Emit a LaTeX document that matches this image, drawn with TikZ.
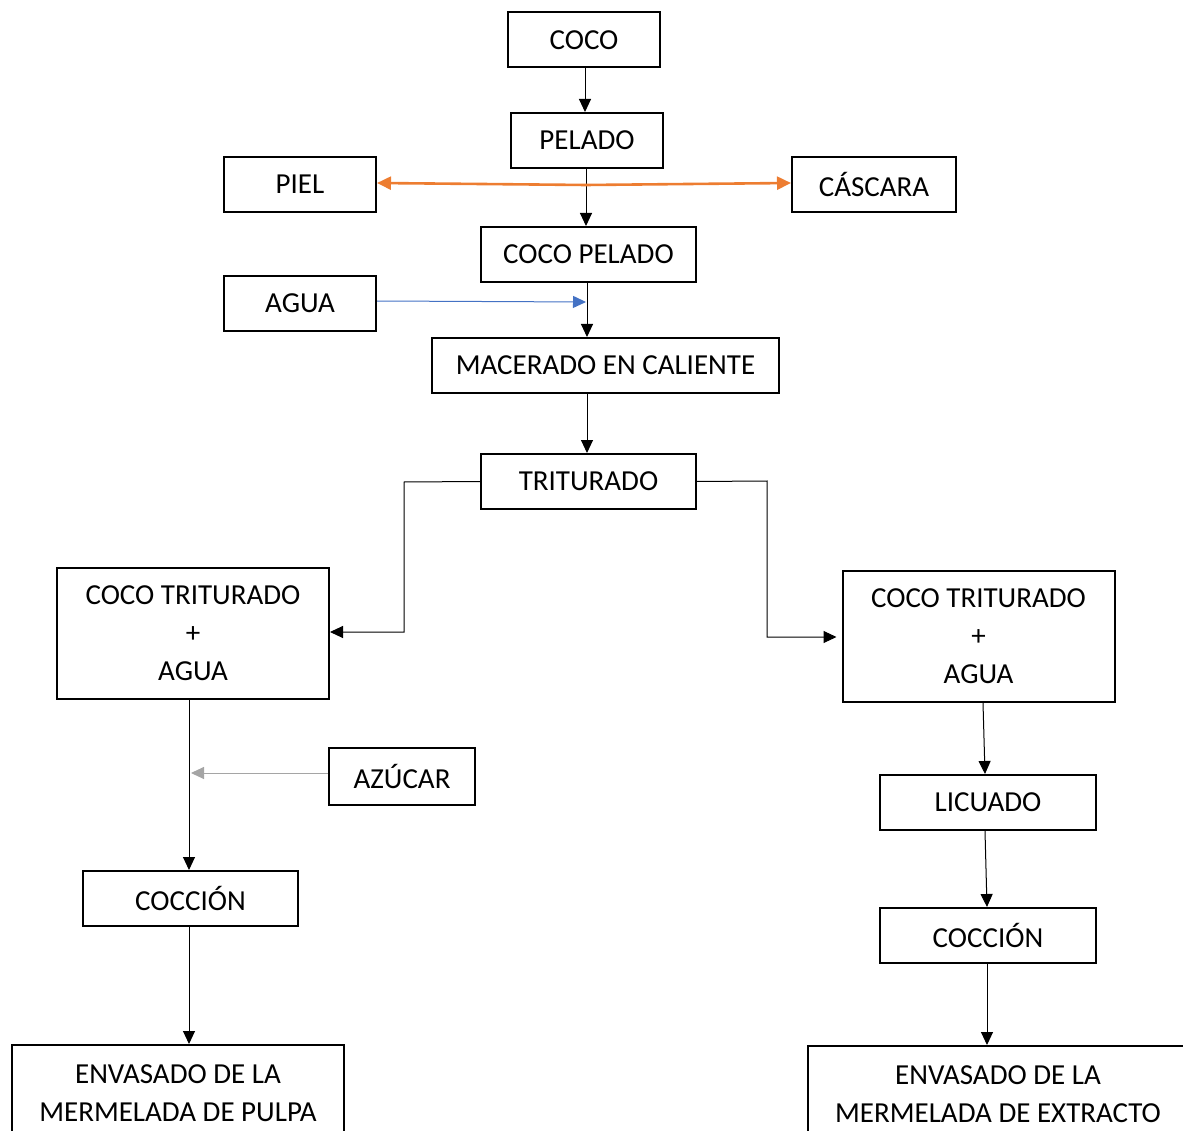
\documentclass[tikz,border=0pt]{standalone}
\usepackage{fontspec}
\setmainfont{Carlito}
\usetikzlibrary{arrows.meta}
\definecolor{ink}{HTML}{000000}
\definecolor{accentorange}{HTML}{ED7D31}
\definecolor{accentblue}{HTML}{4472C4}
\definecolor{accentgray}{HTML}{A5A5A5}
\tikzset{
  stepbox/.style={draw=ink,line width=2pt,align=center,inner sep=0pt,
                  minimum height=55pt,font=\fontsize{29}{38}\selectfont},
  blackarr/.style={-{Triangle[length=13pt,width=12pt]},line width=1pt,
                   draw=ink},
  orangearr/.style={-{Triangle[length=14pt,width=13pt]},line width=2.6pt,
                    draw=accentorange},
  bluearr/.style={-{Triangle[length=13pt,width=12pt]},line width=1pt,
                  draw=accentblue},
  grayarr/.style={-{Triangle[length=13pt,width=12pt]},line width=1pt,
                  draw=accentgray}
}
\begin{document}
\begin{tikzpicture}[x=1pt,y=-1pt]
    \path[use as bounding box] (0,0) rectangle (1183,1131);
    \clip (0,0) rectangle (1183,1131);
    \node[stepbox,minimum width=152pt] (coco) at (584,40) {COCO};
    \node[stepbox,minimum width=152pt] (pelado) at (587,140.5) {PELADO};
    \node[stepbox,minimum width=152pt] (piel) at (300,184.5) {PIEL};
    \node[stepbox,minimum width=164pt] (cascara) at (874,184.5) {CÁSCARA};
    \node[stepbox,minimum width=215pt] (cocopel) at (588.5,254.5)
      {COCO PELADO};
    \node[stepbox,minimum width=152pt] (agua) at (300,303.5) {AGUA};
    \node[stepbox,minimum width=347pt] (macer) at (605.5,365.5)
      {MACERADO EN CALIENTE};
    \node[stepbox,minimum width=215pt] (trit) at (588.5,481.5) {TRITURADO};
    \node[stepbox,minimum width=272pt,minimum height=131pt] (mezizq)
      at (193,633.5) {COCO TRITURADO\\+\\AGUA};
    \node[stepbox,minimum width=272pt,minimum height=131pt] (mezder)
      at (978.5,636.5) {COCO TRITURADO\\+\\AGUA};
    \node[stepbox,minimum width=146pt,minimum height=57pt] (azucar)
      at (402,776.5) {AZÚCAR};
    \node[stepbox,minimum width=216pt] (licuado) at (988,802.5) {LICUADO};
    \node[stepbox,minimum width=215pt] (coccizq) at (190.5,898.5)
      {COCCIÓN};
    \node[stepbox,minimum width=216pt] (coccder) at (988,935.5) {COCCIÓN};
    \node[stepbox,minimum width=332pt,inner ysep=20pt,anchor=north] (envizq)
      at (178,1044) {ENVASADO DE LA\\MERMELADA DE PULPA};
    \node[stepbox,minimum width=380pt,inner ysep=20pt,anchor=north] (envder)
      at (998,1045) {ENVASADO DE LA\\MERMELADA DE EXTRACTO};

    \coordinate (sep) at (586,185);
    \coordinate (entagua) at (586,302);
    \coordinate (entazucar) at (189,773);

    \draw[blackarr] (coco.south -| 585,0) -- (pelado.north -| 585,0);
    \draw[blackarr] (pelado.south -| 586,0) -- (cocopel.north -| 586,0);
    \draw[orangearr] (sep) -- (piel.east |- 0,183);
    \draw[orangearr] (sep) -- (cascara.west |- 0,183);
    \draw[blackarr] (cocopel.south -| 587,0) -- (macer.north -| 587,0);
    \draw[bluearr] (agua.east |- 0,301) -- (entagua);
    \draw[blackarr] (macer.south -| 587,0) -- (trit.north -| 587,0);
    \draw[blackarr] (trit.west) -- (404,482) |- (mezizq.east |- 0,632);
    \draw[blackarr] (trit.east) -- (767,481) |- ([xshift=-5pt]mezder.west |- 0,637);
    \draw[blackarr] (mezizq.south -| 189,0) -- (coccizq.north -| 189,0);
    \draw[grayarr] (azucar.west |- 0,773) -- ([xshift=2pt]entazucar);
    \draw[blackarr] (coccizq.south -| 189,0) -- (envizq.north -| 189,0);
    \draw[blackarr] (mezder.south -| 983,0) -- (licuado.north -| 985,0);
    \draw[blackarr] (licuado.south -| 985,0) -- (coccder.north -| 987,0);
    \draw[blackarr] (coccder.south -| 987,0) -- (envder.north -| 987,0);
  \end{tikzpicture}
\end{document}
